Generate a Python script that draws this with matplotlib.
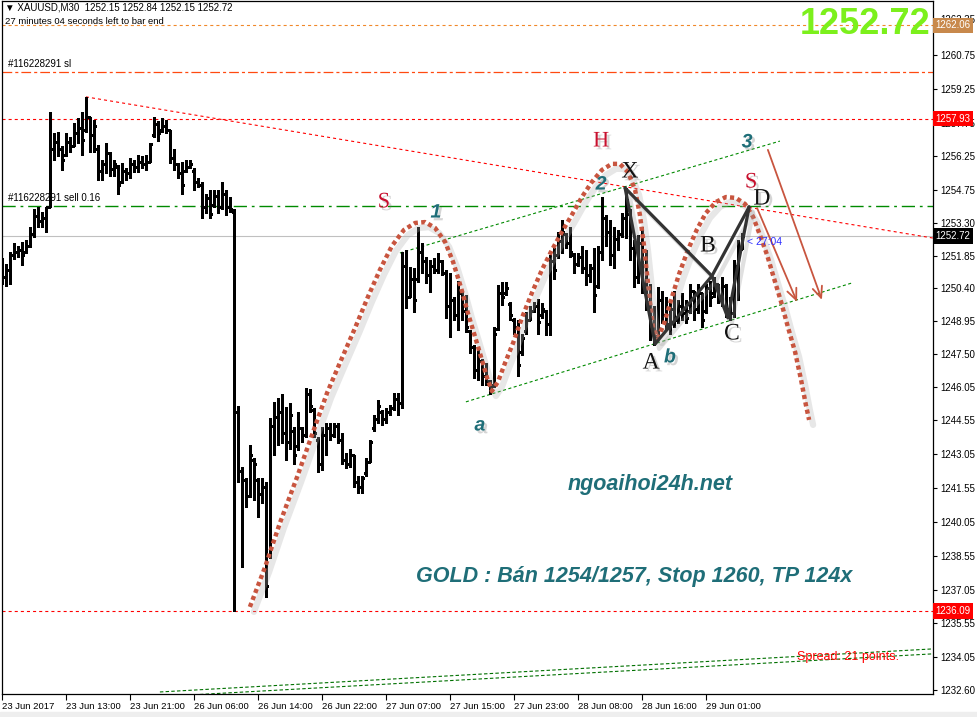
import matplotlib
matplotlib.use('Agg')
import matplotlib.pyplot as plt
import matplotlib.patheffects as pe
from matplotlib.transforms import blended_transform_factory, offset_copy
from matplotlib.patches import Rectangle
import numpy as np

plt.rcParams['font.family'] = ['Liberation Sans', 'DejaVu Sans']
plt.rcParams['lines.scale_dashes'] = False

# XAUUSD M30 bars (one bar per index)
opens = [
    1251.3, 1250.9, 1251.2, 1251.9, 1252.0, 1252.1, 1252.0, 1252.3, 1252.8, 1253.6, 1253.4, 1253.5,
    1254.0, 1256.6, 1256.9, 1256.6, 1256.3, 1256.9, 1256.7, 1257.3, 1257.5, 1257.4, 1258.0, 1257.2,
    1256.6, 1255.6, 1255.9, 1256.4, 1255.7, 1255.8, 1255.1, 1255.6, 1255.5, 1255.9, 1255.8, 1256.0,
    1255.9, 1256.0, 1257.2, 1257.7, 1257.4, 1257.6, 1257.4, 1256.2, 1255.9, 1255.5, 1255.6, 1255.8,
    1255.6, 1255.1, 1255.0, 1254.0, 1254.4, 1254.1, 1254.5, 1254.0, 1254.6, 1254.0, 1253.8,
    1244.9, 1242.3, 1241.9, 1241.2, 1242.8, 1241.9, 1241.3, 1241.6, 1238.6, 1244.3, 1244.7, 1244.9,
    1244.0, 1243.6, 1244.1, 1243.4, 1244.2, 1243.9, 1245.7, 1245.0, 1243.7, 1242.6, 1243.9, 1244.2,
    1243.9, 1244.3, 1243.7, 1242.8, 1242.6, 1243.0, 1241.8, 1241.6, 1242.2, 1242.7, 1244.2, 1244.6,
    1244.9, 1244.6, 1244.9, 1245.1, 1245.5, 1245.3,
    1251.4, 1250.0, 1250.8, 1250.8, 1252.0, 1251.6, 1251.0, 1251.4, 1251.2, 1251.6, 1251.1, 1249.6,
    1249.9, 1249.2, 1250.2, 1249.4, 1248.5, 1247.8, 1246.8, 1247.2, 1246.5, 1246.3, 1246.1, 1248.6,
    1250.2, 1250.2, 1249.7, 1249.0, 1248.7, 1247.6, 1248.5, 1249.0, 1249.4, 1249.6, 1249.2, 1249.4,
    1248.8, 1251.6, 1251.9, 1252.5, 1252.8, 1252.4, 1251.9, 1251.5, 1251.8, 1251.3, 1251.0, 1251.3,
    1250.5, 1252.0, 1253.5, 1252.9, 1251.9, 1252.6, 1252.8, 1253.5,
    1253.7, 1252.2, 1250.9, 1252.4, 1250.6, 1249.8, 1248.4, 1248.3, 1249.9, 1249.2, 1248.8, 1249.5,
    1249.0, 1249.6, 1249.3, 1249.4, 1250.3, 1249.5, 1250.2, 1249.4, 1250.4, 1250.2, 1250.6, 1250.0,
    1250.5, 1249.5, 1249.3, 1251.4, 1252.15]
highs = [
    1251.75, 1251.5, 1252.0, 1252.4, 1252.3, 1252.45, 1252.55, 1253.1, 1253.9, 1254.0, 1253.8, 1254.0,
    1258.2, 1257.3, 1257.35, 1256.7, 1257.3, 1257.1, 1257.75, 1257.95, 1258.2, 1258.9, 1258.0, 1257.85,
    1256.75, 1256.1, 1256.85, 1256.45, 1256.1, 1255.85, 1255.95, 1255.75, 1256.2, 1256.1, 1256.3, 1256.25,
    1256.3, 1256.85, 1258.0, 1257.8, 1257.95, 1257.85, 1257.4, 1256.6, 1255.95, 1256.0, 1256.1, 1256.1,
    1255.75, 1255.3, 1255.1, 1254.6, 1254.75, 1254.75, 1254.75, 1255.1, 1254.75, 1254.45, 1253.9,
    1245.2, 1242.5, 1242.0, 1243.45, 1242.9, 1242.0, 1242.0, 1241.8, 1244.65, 1245.35, 1245.55, 1245.7,
    1245.15, 1245.3, 1244.25, 1244.9, 1244.25, 1246.0, 1245.95, 1245.1, 1243.8, 1244.25, 1244.45, 1244.45,
    1244.45, 1244.45, 1244.0, 1243.1, 1243.3, 1243.0, 1242.1, 1242.1, 1242.9, 1243.7, 1244.8, 1245.45,
    1245.0, 1245.1, 1245.25, 1245.75, 1245.75, 1252.0,
    1252.1, 1251.35, 1251.3, 1253.1, 1252.4, 1251.8, 1251.65, 1251.75, 1251.95, 1251.65, 1251.2, 1251.1,
    1250.0, 1250.75, 1250.25, 1250.1, 1248.55, 1247.9, 1247.8, 1247.25, 1247.1, 1246.35, 1248.7, 1250.55,
    1250.7, 1250.7, 1249.8, 1249.1, 1249.0, 1248.4, 1249.35, 1249.6, 1249.8, 1249.95, 1249.75, 1249.45,
    1251.9, 1252.2, 1252.9, 1253.45, 1252.85, 1253.1, 1251.95, 1251.95, 1252.3, 1252.1, 1251.5, 1252.2,
    1252.3, 1254.45, 1253.65, 1253.45, 1253.1, 1253.0, 1253.75, 1254.85,
    1253.9, 1252.55, 1252.75, 1253.1, 1252.1, 1250.6, 1249.6, 1250.45, 1250.3, 1250.0, 1249.75, 1250.3,
    1249.9, 1250.2, 1249.9, 1250.6, 1250.3, 1250.6, 1250.2, 1250.6, 1250.75, 1250.9, 1250.6, 1250.9,
    1250.6, 1250.0, 1251.65, 1252.55, 1252.84]
lows = [
    1250.6, 1250.5, 1250.6, 1251.7, 1251.8, 1251.45, 1251.95, 1252.25, 1252.7, 1253.1, 1253.1, 1252.9,
    1254.0, 1256.1, 1256.25, 1255.65, 1256.25, 1256.45, 1256.7, 1256.85, 1256.3, 1257.35, 1256.45, 1256.45,
    1255.2, 1255.2, 1255.5, 1255.4, 1255.4, 1254.6, 1255.05, 1255.2, 1255.3, 1255.55, 1255.55, 1255.75,
    1255.65, 1256.0, 1257.1, 1256.95, 1257.35, 1257.3, 1255.95, 1255.65, 1255.3, 1254.6, 1255.55, 1255.75,
    1254.75, 1254.9, 1253.5, 1253.75, 1253.5, 1254.0, 1253.75, 1253.9, 1253.65, 1253.8, 1236.1,
    1241.8, 1238.05, 1240.7, 1241.15, 1241.0, 1240.25, 1240.9, 1236.7, 1238.45, 1243.0, 1243.45, 1243.55,
    1242.8, 1243.3, 1242.6, 1243.25, 1243.6, 1243.8, 1244.9, 1243.8, 1242.25, 1242.35, 1243.0, 1243.7,
    1243.8, 1243.55, 1242.6, 1242.45, 1242.5, 1241.6, 1241.35, 1241.35, 1242.1, 1242.7, 1244.1, 1244.45,
    1244.35, 1244.45, 1244.8, 1245.0, 1244.8, 1245.1,
    1249.55, 1250.0, 1249.35, 1250.7, 1251.1, 1250.65, 1250.25, 1251.1, 1251.1, 1251.0, 1249.1, 1248.25,
    1249.0, 1248.55, 1249.0, 1248.45, 1247.55, 1246.45, 1246.35, 1246.1, 1246.1, 1245.7, 1246.05, 1248.55,
    1249.65, 1250.1, 1249.0, 1248.4, 1246.5, 1247.45, 1248.4, 1249.0, 1249.35, 1248.4, 1249.1, 1248.35,
    1248.35, 1250.8, 1251.75, 1251.95, 1252.2, 1251.8, 1251.1, 1251.4, 1251.1, 1250.55, 1250.7, 1249.35,
    1250.4, 1251.65, 1252.3, 1251.45, 1251.3, 1252.1, 1252.7, 1252.65,
    1251.65, 1250.45, 1250.65, 1250.2, 1249.45, 1248.1, 1247.9, 1248.25, 1248.85, 1248.55, 1248.4, 1248.7,
    1248.85, 1249.0, 1248.85, 1249.3, 1249.0, 1249.3, 1248.7, 1249.3, 1249.6, 1250.0, 1249.75, 1249.6,
    1249.15, 1249.0, 1249.15, 1249.9, 1252.15]
closes = [
    1250.9, 1251.2, 1251.9, 1252.0, 1252.1, 1251.9, 1252.3, 1252.8, 1253.6, 1253.4, 1253.5, 1254.0,
    1256.6, 1256.9, 1256.6, 1256.1, 1256.9, 1256.7, 1257.3, 1257.5, 1257.0, 1258.0, 1257.2, 1257.6,
    1255.6, 1255.9, 1256.4, 1255.7, 1255.9, 1255.0, 1255.6, 1255.5, 1255.9, 1255.8, 1256.0, 1255.9,
    1256.0, 1256.8, 1257.7, 1257.3, 1257.6, 1257.4, 1256.2, 1255.9, 1255.5, 1255.0, 1255.8, 1255.9,
    1255.1, 1255.0, 1254.0, 1254.4, 1253.7, 1254.5, 1254.0, 1254.6, 1254.0, 1253.9, 1244.9,
    1242.3, 1241.9, 1241.2, 1243.0, 1242.6, 1241.3, 1241.6, 1237.2, 1244.3, 1244.7, 1244.9, 1244.0,
    1243.6, 1244.8, 1243.0, 1244.2, 1243.9, 1245.7, 1245.2, 1244.0, 1242.6, 1243.9, 1244.2, 1243.9,
    1244.3, 1243.7, 1242.8, 1242.6, 1243.0, 1241.8, 1241.6, 1242.0, 1242.7, 1243.6, 1244.6, 1245.2,
    1244.6, 1244.9, 1245.1, 1245.5, 1245.3, 1251.4,
    1250.0, 1250.8, 1249.9, 1252.0, 1251.6, 1251.0, 1251.4, 1251.2, 1251.6, 1251.1, 1249.6, 1249.9,
    1249.2, 1250.3, 1249.4, 1248.7, 1247.8, 1246.8, 1247.2, 1246.5, 1246.3, 1246.0, 1248.4, 1250.2,
    1250.0, 1250.4, 1249.2, 1248.7, 1247.0, 1248.2, 1249.0, 1249.4, 1249.6, 1248.9, 1249.5, 1248.8,
    1251.6, 1251.2, 1252.5, 1252.9, 1252.4, 1252.0, 1251.5, 1251.8, 1251.3, 1251.0, 1251.3, 1250.1,
    1252.0, 1253.5, 1252.9, 1251.9, 1252.6, 1252.8, 1253.5, 1254.3,
    1252.2, 1250.9, 1252.4, 1250.6, 1249.8, 1248.4, 1248.2, 1249.9, 1249.2, 1248.8, 1249.5, 1249.0,
    1249.6, 1249.3, 1249.1, 1250.3, 1249.5, 1250.2, 1249.0, 1250.4, 1250.0, 1250.6, 1250.0, 1250.5,
    1249.5, 1249.3, 1251.4, 1252.1, 1252.72]

tick_bars = [0, 16, 32, 48, 64, 80, 96, 112, 128, 144, 160, 176]
tick_labels = ['23 Jun 2017', '23 Jun 13:00', '23 Jun 21:00', '26 Jun 06:00', '26 Jun 14:00',
               '26 Jun 22:00', '27 Jun 07:00', '27 Jun 15:00', '27 Jun 23:00', '28 Jun 08:00',
               '28 Jun 16:00', '29 Jun 01:00']
price_ticks = [1262.35, 1260.75, 1259.25, 1257.75, 1256.25, 1254.75, 1253.30, 1251.85, 1250.40,
               1248.95, 1247.50, 1246.05, 1244.55, 1243.05, 1241.55, 1240.05, 1238.55, 1237.05,
               1235.55, 1234.05, 1232.60]

# horizontal levels
alert_level = 1262.06
sl_level = 1260.0
high_level = 1257.93
sell_level = 1254.06
bid_level = 1252.72
low_level = 1236.09

# trend / channel lines (bar index, price)
trend_x, trend_y = [20.9, 232.7], [1258.89, 1252.63]
chan_up_x, chan_up_y = [99.4, 194.4], [1251.97, 1256.93]
chan_lo_x, chan_lo_y = [115.9, 212.4], [1245.37, 1250.64]
bot1_x, bot1_y = [39.4, 232.7], [1232.51, 1234.42]
bot2_x, bot2_y = [49.4, 232.7], [1232.40, 1234.20]

# head & shoulders sketch
hs_x = [61.9, 65.7, 69.4, 73.7, 77.7, 81.2, 84.4, 88.2, 91.4, 94.4, 97.4, 100.4, 103.2, 105.7,
        108.2, 110.7, 112.7, 114.7, 116.4, 118.2, 119.9, 121.2, 122.4, 123.9, 125.7, 127.7, 129.9,
        132.4, 134.9, 137.4, 139.9, 142.4, 144.9, 147.4, 149.9, 152.4, 154.4, 156.4, 158.2, 159.4,
        160.4, 161.2, 161.9, 162.7, 163.9, 165.4, 167.2, 169.2, 171.4, 173.7, 175.9, 178.4, 180.9,
        183.4, 185.7, 187.7, 189.4, 191.2, 192.9, 194.7, 196.4, 198.2, 199.7, 200.9, 201.7]
hs_y = [1236.28, 1238.05, 1240.00, 1242.04, 1244.04, 1245.77, 1247.10, 1248.65, 1250.02, 1251.22,
        1252.28, 1252.99, 1253.30, 1253.34, 1253.08, 1252.46, 1251.57, 1250.42, 1249.31, 1248.25,
        1247.23, 1246.43, 1245.85, 1246.25, 1247.10, 1247.98, 1249.09, 1250.20, 1251.22, 1252.10,
        1252.90, 1253.66, 1254.45, 1255.12, 1255.65, 1255.92, 1255.92, 1255.56, 1254.76, 1253.66,
        1252.33, 1251.00, 1249.80, 1248.65, 1248.20, 1248.82, 1249.89, 1251.04, 1252.10, 1253.03,
        1253.74, 1254.23, 1254.45, 1254.41, 1254.14, 1253.57, 1252.77, 1251.88, 1250.86, 1249.80,
        1248.69, 1247.58, 1246.34, 1245.23, 1244.57]

# XABCD points
pat_names = ['X', 'A', 'B', 'C', 'D']
pat_x = [155.7, 163.2, 177.4, 181.4, 186.7]
pat_y = [1254.85, 1247.94, 1250.95, 1249.09, 1254.01]

# forecast arrows (start bar, start price, end bar, end price)
arrows = [(191.4, 1256.54, 204.9, 1249.89), (188.7, 1253.96, 198.7, 1249.80)]

fig = plt.figure(figsize=(9.77, 7.17), dpi=100)
fig.patches.append(Rectangle((0, 0), 1, 5 / 717, transform=fig.transFigure,
                             color='#eeeeee', zorder=0))
ax = fig.add_axes([2 / 977, 23 / 717, 931 / 977, 693 / 717])
ax.set_xlim(-0.075, 232.675)
ax.set_ylim(1232.42, 1263.14)

# levels
ax.axhline(alert_level, color='#f0882a', lw=0.8, dashes=(2.2, 2.2))
ax.axhline(sl_level, color='#ff4a10', lw=0.9, dashes=(7, 2.2, 2.2, 2.2))
ax.axhline(high_level, color='red', lw=0.8, dashes=(2.2, 2.2))
ax.axhline(sell_level, color='#008a00', lw=1.0, dashes=(9.5, 3.5, 2, 3.5))
ax.axhline(bid_level, color='#c0c0c0', lw=0.8)
ax.axhline(low_level, color='red', lw=0.8, dashes=(2.2, 2.2))

ax.plot(trend_x, trend_y, color='red', lw=0.8, dashes=(2.2, 2.2))
ax.plot(chan_up_x, chan_up_y, color='#008a00', lw=0.8, dashes=(2.2, 1.8))
ax.plot(chan_lo_x, chan_lo_y, color='#008a00', lw=0.8, dashes=(2.2, 1.8))
ax.plot(bot1_x, bot1_y, color='#007000', lw=0.8, dashes=(2.5, 1.6))
ax.plot(bot2_x, bot2_y, color='#007000', lw=0.8, dashes=(2.5, 1.6))

# bars
x = np.arange(len(highs))
ax.vlines(x, lows, highs, colors='black', linewidth=0.75, antialiased=False, zorder=3)
ax.hlines(opens, x - 0.5, x, colors='black', linewidth=0.75, antialiased=False, zorder=3)
ax.hlines(closes, x, x + 0.5, colors='black', linewidth=0.75, antialiased=False, zorder=3)

# soft shadows under the hand-drawn marks
shadow = offset_copy(ax.transData, fig=fig, x=4, y=-5, units='dots')
ax.plot(hs_x, hs_y, color='#b0b0b0', lw=4.5, alpha=0.3, transform=shadow, zorder=4,
        solid_capstyle='round')
ax.plot(hs_x, hs_y, color='#c8553f', lw=3.2, dashes=(3.0, 2.4), zorder=5)

sx = [pat_x[0], pat_x[1], pat_x[2], pat_x[3], pat_x[4], pat_x[2], pat_x[0]]
sy = [pat_y[0], pat_y[1], pat_y[2], pat_y[3], pat_y[4], pat_y[2], pat_y[0]]
ax.plot(sx, sy, color='#999999', lw=3, alpha=0.3, transform=shadow, zorder=5)
ax.plot([pat_x[0], pat_x[1]], [pat_y[0], pat_y[1]], color='#333333', lw=2.3, zorder=6,
        solid_capstyle='round')
ax.plot([pat_x[1], pat_x[2], pat_x[4]], [pat_y[1], pat_y[2], pat_y[4]], color='#333333',
        lw=2.3, zorder=6, solid_capstyle='round', solid_joinstyle='round')
ax.plot([pat_x[0], pat_x[2], pat_x[3], pat_x[4]], [pat_y[0], pat_y[2], pat_y[3], pat_y[4]],
        color='#333333', lw=2.3, zorder=6, solid_capstyle='round', solid_joinstyle='round')

for x0, y0, x1, y1 in arrows:
    ax.annotate('', xy=(x1, y1), xytext=(x0, y0),
                arrowprops=dict(arrowstyle='->,head_length=0.8,head_width=0.35',
                                color='#c8553f', lw=1.3, shrinkA=0, shrinkB=0), zorder=6)

shade = [pe.withSimplePatchShadow(offset=(2, -2), shadow_rgbFace='#777777', alpha=0.3)]
serif = ['Liberation Serif', 'DejaVu Serif']
for name, bx, by in [('X', 156.9, 1255.56), ('A', 162.2, 1247.09), ('B', 176.4, 1252.28),
                     ('C', 182.4, 1248.38), ('D', 189.9, 1254.36)]:
    ax.text(bx, by, name, family=serif, fontsize=17, color='#111111', ha='center',
            va='center', zorder=7, path_effects=shade)
for name, bx, by in [('S', 95.4, 1254.19), ('H', 149.7, 1256.89), ('S', 187.2, 1255.07)]:
    ax.text(bx, by, name, family=serif, fontsize=16, color='#c8102e', ha='center',
            va='center', zorder=7, path_effects=shade)
teal = '#1f6e78'
for name, bx, by in [('1', 108.4, 1253.74), ('2', 149.7, 1254.98), ('3', 186.2, 1256.85),
                     ('a', 119.4, 1244.30), ('b', 166.9, 1247.32)]:
    ax.text(bx, by, name, fontsize=14, color=teal, fontweight='bold', fontstyle='italic',
            ha='center', va='center', zorder=7, path_effects=shade)

ax.text(161.9, 1241.69, 'ngoaihoi24h.net', fontsize=15.5, color=teal, fontweight='bold',
        fontstyle='italic', ha='center', va='center', zorder=7)
ax.text(157.9, 1237.61, 'GOLD : Bán 1254/1257, Stop 1260, TP 124x', fontsize=15.5,
        color=teal, fontweight='bold', fontstyle='italic', ha='center', va='center', zorder=7)
ax.text(186.2, 1252.46, '< 27:04', fontsize=7.5, color='#3030ff', ha='left', va='center',
        zorder=7)
ax.text(198.7, 1234.06, 'Spread: 21 points.', fontsize=9, color='red', ha='left',
        va='center', zorder=7)
ax.text(1.5, sl_level + 0.12, '#116228291 sl', fontsize=7, ha='left', va='bottom', zorder=7)
ax.text(1.5, sell_level + 0.12, '#116228291 sell 0.16', fontsize=7, ha='left', va='bottom',
        zorder=7)

# header
fig.text(5 / 977, 1 - 8 / 717, '\u25bc XAUUSD,M30  1252.15 1252.84 1252.15 1252.72',
         fontsize=7, ha='left', va='center')
fig.text(5 / 977, 1 - 21 / 717, '27 minutes 04 seconds left to bar end', fontsize=6.8,
         ha='left', va='center')
fig.text(930 / 977, 1 - 25 / 717, '1252.72', fontsize=26, fontweight='bold',
         color='#7cf01c', ha='right', va='center')

# axes
ax.yaxis.tick_right()
ax.set_yticks(price_ticks)
ax.set_yticklabels(['%.2f' % v for v in price_ticks])
ax.set_xticks(tick_bars)
ax.set_xticklabels(tick_labels)
for lbl in ax.get_xticklabels():
    lbl.set_ha('left')
ax.tick_params(axis='y', labelsize=7, length=3, width=0.8, pad=2)
ax.tick_params(axis='x', labelsize=6.8, length=4, width=0.8, pad=2)
for s in ax.spines.values():
    s.set_linewidth(0.9)

# price tags on the right scale
edge = blended_transform_factory(ax.transAxes, ax.transData)
for val, col in [(alert_level, '#c8894c'), (high_level, '#ff0000'),
                 (bid_level, '#000000'), (low_level, '#ff0000')]:
    ax.text(1.0025, val, '%.2f' % val, transform=edge, fontsize=7, color='white',
            ha='left', va='center', zorder=8,
            bbox=dict(facecolor=col, edgecolor='none', boxstyle='square,pad=0.28'))

fig.savefig('out.png', dpi=100)
